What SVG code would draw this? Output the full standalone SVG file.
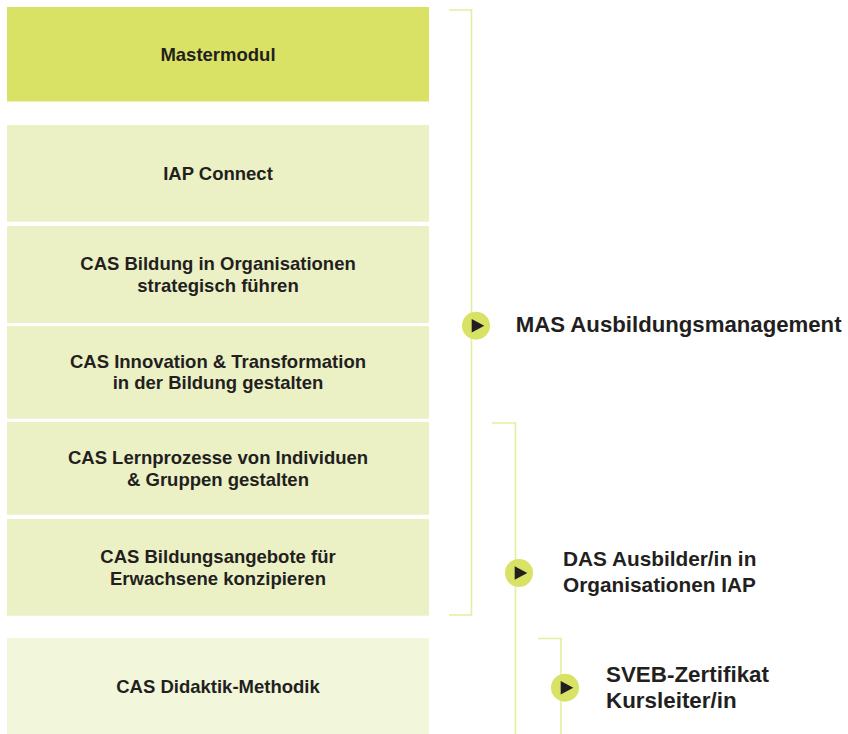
<svg xmlns="http://www.w3.org/2000/svg" width="848" height="734" viewBox="0 0 848 734">
<defs>
<style>
.box{fill:#ebf1c5}
.t{font-family:"Liberation Sans",Arial,sans-serif;font-weight:bold;font-size:18.5px;fill:#231f20;text-anchor:middle}
.lab{font-family:"Liberation Sans",Arial,sans-serif;font-weight:bold;fill:#231f20}
.br{fill:none;stroke:#e5ee9f;stroke-width:1.6}
.dot{fill:#d8e264}
.tri{fill:#231f20}
</style>
</defs>
<rect width="848" height="734" fill="#ffffff"/>
<g id="connectors">
<path class="br" d="M449,10 H471.5 V615 H449"/>
<path class="br" d="M492,423 H515.5 V734"/>
<path class="br" d="M538,638.5 H561 V734"/>
</g>
<g id="mastermodul"><rect x="7" y="7" width="422" height="94.5" fill="#d9e264"/><text class="t" x="218" y="60.7">Mastermodul</text></g>
<g id="iap-connect"><rect class="box" x="7" y="125" width="422" height="96.7"/><text class="t" x="218" y="180">IAP Connect</text></g>
<g id="cas-bildung"><rect class="box" x="7" y="226" width="422" height="97"/><text class="t" x="218" y="270">CAS Bildung in Organisationen</text><text class="t" x="218" y="291.7">strategisch führen</text></g>
<g id="cas-innovation"><rect class="box" x="7" y="326" width="422" height="92.7"/><text class="t" x="218" y="368.3">CAS Innovation &amp; Transformation</text><text class="t" x="218" y="389.3">in der Bildung gestalten</text></g>
<g id="cas-lernprozesse"><rect class="box" x="7" y="422" width="422" height="92.7"/><text class="t" x="218" y="464">CAS Lernprozesse von Individuen</text><text class="t" x="218" y="485.5">&amp; Gruppen gestalten</text></g>
<g id="cas-bildungsangebote"><rect class="box" x="7" y="519" width="422" height="96.7"/><text class="t" x="218" y="563">CAS Bildungsangebote für</text><text class="t" x="218" y="584.5">Erwachsene konzipieren</text></g>
<g id="cas-didaktik"><rect x="7" y="638" width="422" height="96" fill="#f2f6da"/><text class="t" x="218" y="692.7">CAS Didaktik-Methodik</text></g>
<g id="mas"><circle class="dot" cx="476" cy="325.7" r="14"/><path class="tri" d="M471.7,319 L484.3,325.7 L471.7,332.4 Z"/><text class="lab" x="515.7" y="331.7" style="font-size:22.2px">MAS Ausbildungsmanagement</text></g>
<g id="das"><circle class="dot" cx="519" cy="573" r="14"/><path class="tri" d="M514.7,566.3 L527.3,573 L514.7,579.7 Z"/><text class="lab" x="563" y="566" style="font-size:20.8px">DAS Ausbilder/in in</text><text class="lab" x="563" y="591.7" style="font-size:20.8px">Organisationen IAP</text></g>
<g id="sveb"><circle class="dot" cx="565" cy="687.7" r="14"/><path class="tri" d="M560.7,681 L573.3,687.7 L560.7,694.4 Z"/><text class="lab" x="606" y="681.7" style="font-size:22.4px">SVEB-Zertifikat</text><text class="lab" x="606" y="707.7" style="font-size:22.4px">Kursleiter/in</text></g>
</svg>
